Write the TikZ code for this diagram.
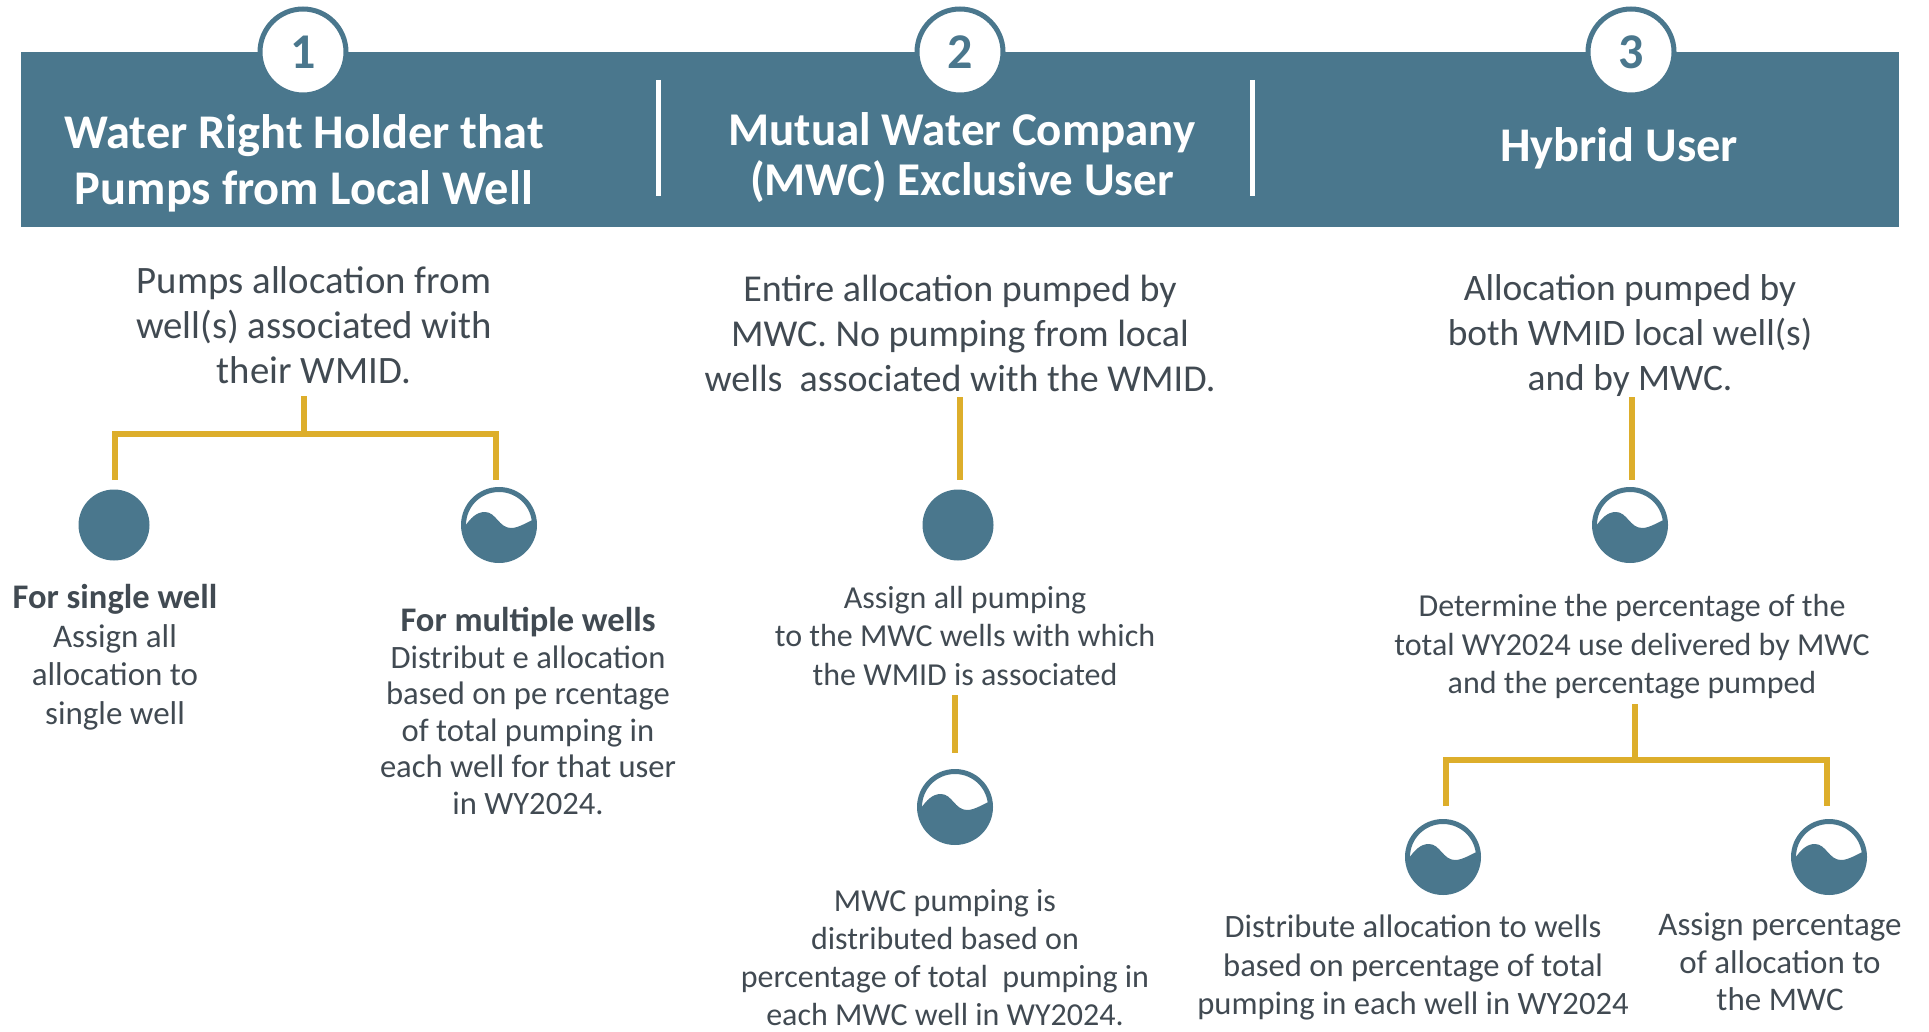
\documentclass[tikz,border=0pt]{standalone}
\usepackage{fontspec}
\setmainfont{Carlito}
\newlength{\du}
\setlength{\du}{1pt}
\definecolor{bandcolor}{HTML}{4A778D}
\definecolor{linkcolor}{HTML}{DDAE2B}
\definecolor{textcolor}{HTML}{414A52}
\tikzset{
  band/.style={fill=bandcolor,inner sep=0pt,minimum width=1878\du,minimum height=175\du},
  numbercircle/.style={circle,draw=bandcolor,fill=white,line width=5\du,minimum size=86\du,inner sep=0pt,text=bandcolor,font=\fontsize{50}{50}\selectfont\bfseries},
  headtext/.style={align=center,text=white,inner sep=0pt,font=\fontsize{48.4}{56}\selectfont\bfseries},
  sepline/.style={draw=white,line width=5\du},
  bigtext/.style={align=center,text=textcolor,inner sep=0pt,font=\fontsize{38}{45}\selectfont},
  smalltext/.style={align=center,text=textcolor,inner sep=0pt,font=\fontsize{32}{38.5}\selectfont},
  link/.style={draw=linkcolor,line width=5.5\du},
  dotwell/.style={circle,fill=bandcolor,minimum size=71\du,inner sep=0pt},
  wavewell/.style={circle,draw=bandcolor,fill=white,line width=5\du,minimum size=71\du,inner sep=0pt,
    path picture={
      \fill[bandcolor,shift={(path picture bounding box.center)}]
        (-36\du,-4\du) .. controls (-28\du,8\du) and (-22\du,13\du) .. (-14\du,13\du)
        .. controls (-3\du,13\du) and (0\du,-3\du) .. (12\du,-3\du)
        .. controls (20\du,-3\du) and (28\du,3\du) .. (36\du,6\du)
        -- (36\du,-40\du) -- (-36\du,-40\du) -- cycle;
    }},
}
\begin{document}
\begin{tikzpicture}
\pgftransformyscale{-1.000000}
\useasboundingbox (0\du,0\du) rectangle (1929\du,1032\du);
% header
\node[band] (band) at (960\du,139.5\du) {};
\node[numbercircle] (num1) at (303\du,52\du) {1};
\node[numbercircle] (num2) at (960\du,52\du) {2};
\node[numbercircle] (num3) at (1631\du,52\du) {3};
\node[headtext] (head1) at (304\du,163\du) {Water Right Holder that\\Pumps from Local Well};
\node[headtext,font=\fontsize{47}{50.5}\selectfont\bfseries] (head2) at (962\du,157.5\du) {Mutual Water Company\\(MWC) Exclusive User};
\node[headtext] (head3) at (1619\du,148\du) {Hybrid User};
\coordinate (sep1a) at (658\du,80\du);
\coordinate (sep1b) at (658\du,196\du);
\coordinate (sep2a) at (1252\du,80\du);
\coordinate (sep2b) at (1252\du,196\du);
\draw[sepline] (sep1a)--(sep1b);
\draw[sepline] (sep2a)--(sep2b);
% column 1
\node[bigtext,font=\fontsize{38.8}{45}\selectfont] (pumps1) at (314\du,325\du) {Pumps allocation from\\well(s) associated with\\their WMID.};
\coordinate (fork1a) at (304\du,396\du);
\coordinate (fork1b) at (304\du,434\du);
\coordinate (fork1c) at (115\du,480\du);
\coordinate (fork1d) at (496\du,480\du);
\draw[link] (fork1a)--(fork1b);
\draw[link] (fork1c)|-(fork1b)-|(fork1d);
\node[dotwell] (single) at (114\du,525\du) {};
\node[wavewell] (multi) at (499\du,525\du) {};
\node[smalltext,font=\fontsize{33}{38.5}\selectfont] (singletext) at (115\du,657\du) {{\fontsize{34.5}{38.5}\selectfont\bfseries For single well}\\Assign all\\allocation to\\single well};
\node[smalltext,font=\fontsize{32.6}{36.6}\selectfont] (multitext) at (528\du,711\du) {{\fontsize{34.5}{36.6}\selectfont\bfseries For multiple wells}\\Distribut e allocation\\based on pe rcentage\\of total pumping in\\each well for that user\\in WY2024.};
% column 2
\node[bigtext] (pumps2) at (960\du,333\du) {Entire allocation pumped by\\MWC. No pumping from local\\wells~ associated with the WMID.};
\coordinate (link2a) at (960\du,397\du);
\coordinate (link2b) at (960\du,480\du);
\draw[link] (link2a)--(link2b);
\node[dotwell] (single2) at (958\du,525\du) {};
\node[smalltext] (assign2) at (965\du,636\du) {Assign all pumping\\to the MWC wells with which\\the WMID is associated};
\coordinate (link3a) at (955\du,695\du);
\coordinate (link3b) at (955\du,753\du);
\draw[link] (link3a)--(link3b);
\node[wavewell] (multi2) at (955\du,807\du) {};
\node[smalltext,font=\fontsize{32}{38}\selectfont] (mwc2) at (945\du,958\du) {MWC pumping is\\distributed based on\\percentage of total~ pumping in\\each MWC well in WY2024.};
% column 3
\node[bigtext,font=\fontsize{37.4}{45}\selectfont] (pumps3) at (1630\du,335.5\du) {Allocation pumped by\\both WMID local well(s)\\and by MWC.};
\coordinate (link4a) at (1632\du,397\du);
\coordinate (link4b) at (1632\du,480\du);
\draw[link] (link4a)--(link4b);
\node[wavewell] (multi3) at (1630\du,525\du) {};
\node[smalltext] (percent3) at (1632\du,647\du) {Determine the percentage of the\\total WY2024 use delivered by MWC\\and the percentage pumped};
\coordinate (fork3a) at (1635\du,704\du);
\coordinate (fork3b) at (1635\du,760\du);
\coordinate (fork3c) at (1446\du,806\du);
\coordinate (fork3d) at (1827\du,806\du);
\draw[link] (fork3a)--(fork3b);
\draw[link] (fork3c)|-(fork3b)-|(fork3d);
\node[wavewell] (multi4) at (1443\du,857\du) {};
\node[wavewell] (multi5) at (1829\du,857\du) {};
\node[smalltext,font=\fontsize{32.6}{38.5}\selectfont] (dist3) at (1413\du,967.5\du) {Distribute allocation to wells\\based on percentage of total\\pumping in each well in WY2024};
\node[smalltext,font=\fontsize{33}{37.5}\selectfont] (assign3) at (1780\du,962\du) {Assign percentage\\of allocation to\\the MWC};
\end{tikzpicture}
\end{document}
